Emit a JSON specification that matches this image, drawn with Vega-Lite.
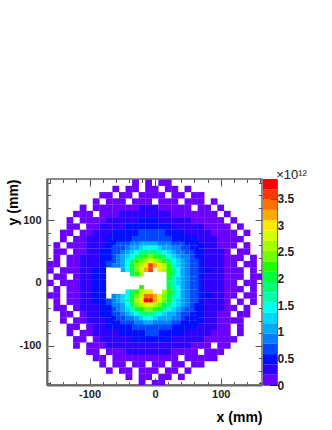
{"$schema":"https://vega.github.io/schema/vega-lite/v6.json","padding":{"left":0,"top":167,"right":0,"bottom":0},"background":"white","spacing":1,"bounds":"flush","config":{"font":"Liberation Sans","view":{"stroke":"#666","strokeWidth":1.5}},"hconcat":[{"width":215,"height":206,"layer":[{"data":{"values":[
{"x":-30,"y":160,"v":0.1},{"x":-10,"y":160,"v":0.1},{"x":10,"y":160,"v":0.1},{"x":20,"y":160,"v":0.1},
{"x":-60,"y":150,"v":0.1},{"x":-40,"y":150,"v":0.1},{"x":-30,"y":150,"v":0.1},{"x":-10,"y":150,"v":0.1},{"x":0,"y":150,"v":0.1},{"x":20,"y":150,"v":0.1},{"x":30,"y":150,"v":0.1},{"x":50,"y":150,"v":0.1},
{"x":-80,"y":140,"v":0.1},{"x":-70,"y":140,"v":0.1},{"x":-50,"y":140,"v":0.1},{"x":-40,"y":140,"v":0.1},{"x":-20,"y":140,"v":0.1},{"x":-10,"y":140,"v":0.1},{"x":0,"y":140,"v":0.1},{"x":10,"y":140,"v":0.1},{"x":30,"y":140,"v":0.1},{"x":40,"y":140,"v":0.1},{"x":60,"y":140,"v":0.1},{"x":70,"y":140,"v":0.1},
{"x":-90,"y":130,"v":0.1},{"x":-70,"y":130,"v":0.1},{"x":-60,"y":130,"v":0.1},{"x":-50,"y":130,"v":0.1},{"x":-30,"y":130,"v":0.1},{"x":-20,"y":130,"v":0.1},{"x":-10,"y":130,"v":0.1},{"x":10,"y":130,"v":0.1},{"x":20,"y":130,"v":0.1},{"x":30,"y":130,"v":0.1},{"x":50,"y":130,"v":0.1},{"x":60,"y":130,"v":0.1},{"x":70,"y":130,"v":0.1},{"x":90,"y":130,"v":0.1},
{"x":-110,"y":120,"v":0.1},{"x":-90,"y":120,"v":0.1},{"x":-80,"y":120,"v":0.1},{"x":-70,"y":120,"v":0.1},{"x":-60,"y":120,"v":0.1},{"x":-50,"y":120,"v":0.1},{"x":-40,"y":120,"v":0.1},{"x":-30,"y":120,"v":0.15},{"x":-20,"y":120,"v":0.2},{"x":-10,"y":120,"v":0.2},{"x":0,"y":120,"v":0.2},{"x":10,"y":120,"v":0.15},{"x":20,"y":120,"v":0.1},{"x":30,"y":120,"v":0.1},{"x":40,"y":120,"v":0.1},{"x":50,"y":120,"v":0.1},{"x":70,"y":120,"v":0.1},{"x":80,"y":120,"v":0.1},{"x":100,"y":120,"v":0.1},
{"x":-120,"y":110,"v":0.1},{"x":-110,"y":110,"v":0.1},{"x":-100,"y":110,"v":0.1},{"x":-80,"y":110,"v":0.1},{"x":-70,"y":110,"v":0.1},{"x":-60,"y":110,"v":0.15},{"x":-50,"y":110,"v":0.2},{"x":-40,"y":110,"v":0.2},{"x":-30,"y":110,"v":0.25},{"x":-20,"y":110,"v":0.3},{"x":-10,"y":110,"v":0.3},{"x":0,"y":110,"v":0.25},{"x":10,"y":110,"v":0.25},{"x":20,"y":110,"v":0.2},{"x":30,"y":110,"v":0.15},{"x":40,"y":110,"v":0.15},{"x":50,"y":110,"v":0.1},{"x":60,"y":110,"v":0.1},{"x":70,"y":110,"v":0.1},{"x":80,"y":110,"v":0.1},{"x":90,"y":110,"v":0.1},{"x":110,"y":110,"v":0.1},
{"x":-130,"y":100,"v":0.1},{"x":-110,"y":100,"v":0.1},{"x":-100,"y":100,"v":0.1},{"x":-90,"y":100,"v":0.1},{"x":-80,"y":100,"v":0.15},{"x":-70,"y":100,"v":0.2},{"x":-60,"y":100,"v":0.2},{"x":-50,"y":100,"v":0.3},{"x":-40,"y":100,"v":0.3},{"x":-30,"y":100,"v":0.35},{"x":-20,"y":100,"v":0.4},{"x":-10,"y":100,"v":0.4},{"x":0,"y":100,"v":0.4},{"x":10,"y":100,"v":0.35},{"x":20,"y":100,"v":0.3},{"x":30,"y":100,"v":0.25},{"x":40,"y":100,"v":0.2},{"x":50,"y":100,"v":0.2},{"x":60,"y":100,"v":0.15},{"x":70,"y":100,"v":0.1},{"x":80,"y":100,"v":0.1},{"x":90,"y":100,"v":0.1},{"x":100,"y":100,"v":0.1},{"x":120,"y":100,"v":0.1},
{"x":-130,"y":90,"v":0.1},{"x":-120,"y":90,"v":0.1},{"x":-100,"y":90,"v":0.1},{"x":-90,"y":90,"v":0.15},{"x":-80,"y":90,"v":0.2},{"x":-70,"y":90,"v":0.25},{"x":-60,"y":90,"v":0.3},{"x":-50,"y":90,"v":0.35},{"x":-40,"y":90,"v":0.4},{"x":-30,"y":90,"v":0.45},{"x":-20,"y":90,"v":0.5},{"x":-10,"y":90,"v":0.5},{"x":0,"y":90,"v":0.5},{"x":10,"y":90,"v":0.45},{"x":20,"y":90,"v":0.4},{"x":30,"y":90,"v":0.35},{"x":40,"y":90,"v":0.3},{"x":50,"y":90,"v":0.25},{"x":60,"y":90,"v":0.2},{"x":70,"y":90,"v":0.2},{"x":80,"y":90,"v":0.15},{"x":90,"y":90,"v":0.1},{"x":100,"y":90,"v":0.1},{"x":110,"y":90,"v":0.1},{"x":130,"y":90,"v":0.1},
{"x":-140,"y":80,"v":0.1},{"x":-130,"y":80,"v":0.1},{"x":-110,"y":80,"v":0.1},{"x":-100,"y":80,"v":0.15},{"x":-90,"y":80,"v":0.2},{"x":-80,"y":80,"v":0.25},{"x":-70,"y":80,"v":0.3},{"x":-60,"y":80,"v":0.4},{"x":-50,"y":80,"v":0.45},{"x":-40,"y":80,"v":0.5},{"x":-30,"y":80,"v":0.55},{"x":-20,"y":80,"v":0.6},{"x":-10,"y":80,"v":0.65},{"x":0,"y":80,"v":0.6},{"x":10,"y":80,"v":0.6},{"x":20,"y":80,"v":0.5},{"x":30,"y":80,"v":0.45},{"x":40,"y":80,"v":0.4},{"x":50,"y":80,"v":0.35},{"x":60,"y":80,"v":0.3},{"x":70,"y":80,"v":0.25},{"x":80,"y":80,"v":0.2},{"x":90,"y":80,"v":0.15},{"x":100,"y":80,"v":0.1},{"x":110,"y":80,"v":0.1},{"x":120,"y":80,"v":0.1},{"x":140,"y":80,"v":0.1},
{"x":-140,"y":70,"v":0.1},{"x":-120,"y":70,"v":0.1},{"x":-110,"y":70,"v":0.1},{"x":-100,"y":70,"v":0.2},{"x":-90,"y":70,"v":0.25},{"x":-80,"y":70,"v":0.3},{"x":-70,"y":70,"v":0.4},{"x":-60,"y":70,"v":0.45},{"x":-50,"y":70,"v":0.5},{"x":-40,"y":70,"v":0.55},{"x":-30,"y":70,"v":0.6},{"x":-20,"y":70,"v":0.7},{"x":-10,"y":70,"v":0.75},{"x":0,"y":70,"v":0.75},{"x":10,"y":70,"v":0.7},{"x":20,"y":70,"v":0.6},{"x":30,"y":70,"v":0.55},{"x":40,"y":70,"v":0.5},{"x":50,"y":70,"v":0.45},{"x":60,"y":70,"v":0.4},{"x":70,"y":70,"v":0.35},{"x":80,"y":70,"v":0.25},{"x":90,"y":70,"v":0.2},{"x":100,"y":70,"v":0.15},{"x":110,"y":70,"v":0.1},{"x":120,"y":70,"v":0.1},{"x":130,"y":70,"v":0.1},
{"x":-150,"y":60,"v":0.1},{"x":-130,"y":60,"v":0.1},{"x":-120,"y":60,"v":0.1},{"x":-110,"y":60,"v":0.15},{"x":-100,"y":60,"v":0.2},{"x":-90,"y":60,"v":0.3},{"x":-80,"y":60,"v":0.35},{"x":-70,"y":60,"v":0.45},{"x":70,"y":60,"v":0.4},{"x":80,"y":60,"v":0.3},{"x":90,"y":60,"v":0.25},{"x":100,"y":60,"v":0.15},{"x":110,"y":60,"v":0.1},{"x":120,"y":60,"v":0.1},{"x":140,"y":60,"v":0.1},
{"x":-150,"y":50,"v":0.1},{"x":-140,"y":50,"v":0.1},{"x":-120,"y":50,"v":0.1},{"x":-110,"y":50,"v":0.15},{"x":-100,"y":50,"v":0.25},{"x":-90,"y":50,"v":0.3},{"x":-80,"y":50,"v":0.4},{"x":-70,"y":50,"v":0.5},{"x":70,"y":50,"v":0.4},{"x":80,"y":50,"v":0.35},{"x":90,"y":50,"v":0.25},{"x":100,"y":50,"v":0.2},{"x":110,"y":50,"v":0.1},{"x":130,"y":50,"v":0.1},{"x":140,"y":50,"v":0.1},
{"x":-150,"y":40,"v":0.1},{"x":-130,"y":40,"v":0.1},{"x":-120,"y":40,"v":0.1},{"x":-110,"y":40,"v":0.2},{"x":-100,"y":40,"v":0.25},{"x":-90,"y":40,"v":0.35},{"x":-80,"y":40,"v":0.45},{"x":-70,"y":40,"v":0.55},{"x":70,"y":40,"v":0.45},{"x":80,"y":40,"v":0.35},{"x":90,"y":40,"v":0.3},{"x":100,"y":40,"v":0.2},{"x":110,"y":40,"v":0.15},{"x":120,"y":40,"v":0.1},{"x":130,"y":40,"v":0.1},{"x":150,"y":40,"v":0.1},
{"x":-160,"y":30,"v":0.1},{"x":-150,"y":30,"v":0.1},{"x":-130,"y":30,"v":0.1},{"x":-120,"y":30,"v":0.15},{"x":-110,"y":30,"v":0.2},{"x":-100,"y":30,"v":0.3},{"x":-90,"y":30,"v":0.35},{"x":-80,"y":30,"v":0.5},{"x":-70,"y":30,"v":0.6},{"x":70,"y":30,"v":0.45},{"x":80,"y":30,"v":0.35},{"x":90,"y":30,"v":0.3},{"x":100,"y":30,"v":0.2},{"x":110,"y":30,"v":0.15},{"x":120,"y":30,"v":0.1},{"x":140,"y":30,"v":0.1},{"x":150,"y":30,"v":0.1},
{"x":-160,"y":20,"v":0.1},{"x":-140,"y":20,"v":0.1},{"x":-130,"y":20,"v":0.1},{"x":-120,"y":20,"v":0.15},{"x":-110,"y":20,"v":0.2},{"x":-100,"y":20,"v":0.3},{"x":-90,"y":20,"v":0.4},{"x":-80,"y":20,"v":0.55},{"x":70,"y":20,"v":0.45},{"x":80,"y":20,"v":0.4},{"x":90,"y":20,"v":0.3},{"x":100,"y":20,"v":0.2},{"x":110,"y":20,"v":0.15},{"x":120,"y":20,"v":0.1},{"x":130,"y":20,"v":0.1},{"x":150,"y":20,"v":0.1},
{"x":-150,"y":10,"v":0.1},{"x":-140,"y":10,"v":0.1},{"x":-120,"y":10,"v":0.15},{"x":-110,"y":10,"v":0.2},{"x":-100,"y":10,"v":0.3},{"x":-90,"y":10,"v":0.4},{"x":-80,"y":10,"v":0.5},{"x":70,"y":10,"v":0.45},{"x":80,"y":10,"v":0.35},{"x":90,"y":10,"v":0.3},{"x":100,"y":10,"v":0.2},{"x":110,"y":10,"v":0.15},{"x":120,"y":10,"v":0.1},{"x":130,"y":10,"v":0.1},{"x":150,"y":10,"v":0.1},{"x":160,"y":10,"v":0.1},
{"x":-160,"y":0,"v":0.1},{"x":-140,"y":0,"v":0.1},{"x":-130,"y":0,"v":0.1},{"x":-120,"y":0,"v":0.15},{"x":-110,"y":0,"v":0.2},{"x":-100,"y":0,"v":0.3},{"x":-90,"y":0,"v":0.4},{"x":-80,"y":0,"v":0.5},{"x":70,"y":0,"v":0.45},{"x":80,"y":0,"v":0.35},{"x":90,"y":0,"v":0.3},{"x":100,"y":0,"v":0.2},{"x":110,"y":0,"v":0.15},{"x":120,"y":0,"v":0.1},{"x":140,"y":0,"v":0.1},{"x":150,"y":0,"v":0.1},
{"x":-150,"y":-10,"v":0.1},{"x":-130,"y":-10,"v":0.1},{"x":-120,"y":-10,"v":0.15},{"x":-110,"y":-10,"v":0.2},{"x":-100,"y":-10,"v":0.3},{"x":-90,"y":-10,"v":0.4},{"x":-80,"y":-10,"v":0.55},{"x":70,"y":-10,"v":0.45},{"x":80,"y":-10,"v":0.35},{"x":90,"y":-10,"v":0.3},{"x":100,"y":-10,"v":0.2},{"x":110,"y":-10,"v":0.15},{"x":120,"y":-10,"v":0.1},{"x":130,"y":-10,"v":0.1},{"x":150,"y":-10,"v":0.1},
{"x":-160,"y":-20,"v":0.1},{"x":-150,"y":-20,"v":0.1},{"x":-130,"y":-20,"v":0.1},{"x":-120,"y":-20,"v":0.15},{"x":-110,"y":-20,"v":0.2},{"x":-100,"y":-20,"v":0.3},{"x":-90,"y":-20,"v":0.4},{"x":-80,"y":-20,"v":0.55},{"x":70,"y":-20,"v":0.45},{"x":80,"y":-20,"v":0.4},{"x":90,"y":-20,"v":0.3},{"x":100,"y":-20,"v":0.2},{"x":110,"y":-20,"v":0.15},{"x":120,"y":-20,"v":0.1},{"x":140,"y":-20,"v":0.1},{"x":150,"y":-20,"v":0.1},
{"x":-150,"y":-30,"v":0.1},{"x":-130,"y":-30,"v":0.1},{"x":-120,"y":-30,"v":0.15},{"x":-110,"y":-30,"v":0.2},{"x":-100,"y":-30,"v":0.3},{"x":-90,"y":-30,"v":0.4},{"x":-80,"y":-30,"v":0.5},{"x":-70,"y":-30,"v":0.65},{"x":70,"y":-30,"v":0.45},{"x":80,"y":-30,"v":0.35},{"x":90,"y":-30,"v":0.3},{"x":100,"y":-30,"v":0.2},{"x":110,"y":-30,"v":0.1},{"x":130,"y":-30,"v":0.1},{"x":150,"y":-30,"v":0.1},
{"x":-150,"y":-40,"v":0.1},{"x":-140,"y":-40,"v":0.1},{"x":-120,"y":-40,"v":0.1},{"x":-110,"y":-40,"v":0.2},{"x":-100,"y":-40,"v":0.25},{"x":-90,"y":-40,"v":0.35},{"x":-80,"y":-40,"v":0.45},{"x":-70,"y":-40,"v":0.55},{"x":70,"y":-40,"v":0.45},{"x":80,"y":-40,"v":0.35},{"x":90,"y":-40,"v":0.25},{"x":100,"y":-40,"v":0.2},{"x":110,"y":-40,"v":0.15},{"x":120,"y":-40,"v":0.1},{"x":140,"y":-40,"v":0.1},
{"x":-140,"y":-50,"v":0.1},{"x":-130,"y":-50,"v":0.1},{"x":-110,"y":-50,"v":0.15},{"x":-100,"y":-50,"v":0.25},{"x":-90,"y":-50,"v":0.3},{"x":-80,"y":-50,"v":0.4},{"x":-70,"y":-50,"v":0.5},{"x":70,"y":-50,"v":0.4},{"x":80,"y":-50,"v":0.35},{"x":90,"y":-50,"v":0.25},{"x":100,"y":-50,"v":0.15},{"x":110,"y":-50,"v":0.1},{"x":130,"y":-50,"v":0.1},{"x":140,"y":-50,"v":0.1},
{"x":-140,"y":-60,"v":0.1},{"x":-120,"y":-60,"v":0.1},{"x":-110,"y":-60,"v":0.15},{"x":-100,"y":-60,"v":0.2},{"x":-90,"y":-60,"v":0.3},{"x":-80,"y":-60,"v":0.35},{"x":-70,"y":-60,"v":0.45},{"x":70,"y":-60,"v":0.4},{"x":80,"y":-60,"v":0.3},{"x":90,"y":-60,"v":0.2},{"x":100,"y":-60,"v":0.15},{"x":110,"y":-60,"v":0.1},{"x":120,"y":-60,"v":0.1},{"x":130,"y":-60,"v":0.1},
{"x":-130,"y":-70,"v":0.1},{"x":-120,"y":-70,"v":0.1},{"x":-100,"y":-70,"v":0.15},{"x":-90,"y":-70,"v":0.25},{"x":-80,"y":-70,"v":0.3},{"x":-70,"y":-70,"v":0.4},{"x":-60,"y":-70,"v":0.45},{"x":-50,"y":-70,"v":0.5},{"x":-40,"y":-70,"v":0.55},{"x":-30,"y":-70,"v":0.6},{"x":-20,"y":-70,"v":0.7},{"x":-10,"y":-70,"v":0.7},{"x":0,"y":-70,"v":0.7},{"x":10,"y":-70,"v":0.65},{"x":20,"y":-70,"v":0.6},{"x":30,"y":-70,"v":0.5},{"x":40,"y":-70,"v":0.45},{"x":50,"y":-70,"v":0.4},{"x":60,"y":-70,"v":0.4},{"x":70,"y":-70,"v":0.3},{"x":80,"y":-70,"v":0.25},{"x":90,"y":-70,"v":0.2},{"x":100,"y":-70,"v":0.15},{"x":110,"y":-70,"v":0.1},{"x":130,"y":-70,"v":0.1},
{"x":-130,"y":-80,"v":0.1},{"x":-110,"y":-80,"v":0.1},{"x":-100,"y":-80,"v":0.15},{"x":-90,"y":-80,"v":0.2},{"x":-80,"y":-80,"v":0.25},{"x":-70,"y":-80,"v":0.3},{"x":-60,"y":-80,"v":0.35},{"x":-50,"y":-80,"v":0.4},{"x":-40,"y":-80,"v":0.45},{"x":-30,"y":-80,"v":0.5},{"x":-20,"y":-80,"v":0.55},{"x":-10,"y":-80,"v":0.6},{"x":0,"y":-80,"v":0.6},{"x":10,"y":-80,"v":0.55},{"x":20,"y":-80,"v":0.5},{"x":30,"y":-80,"v":0.45},{"x":40,"y":-80,"v":0.4},{"x":50,"y":-80,"v":0.35},{"x":60,"y":-80,"v":0.3},{"x":70,"y":-80,"v":0.25},{"x":80,"y":-80,"v":0.2},{"x":90,"y":-80,"v":0.15},{"x":100,"y":-80,"v":0.1},{"x":110,"y":-80,"v":0.1},{"x":130,"y":-80,"v":0.1},
{"x":-120,"y":-90,"v":0.1},{"x":-110,"y":-90,"v":0.1},{"x":-90,"y":-90,"v":0.15},{"x":-80,"y":-90,"v":0.2},{"x":-70,"y":-90,"v":0.25},{"x":-60,"y":-90,"v":0.3},{"x":-50,"y":-90,"v":0.35},{"x":-40,"y":-90,"v":0.35},{"x":-30,"y":-90,"v":0.4},{"x":-20,"y":-90,"v":0.45},{"x":-10,"y":-90,"v":0.45},{"x":0,"y":-90,"v":0.45},{"x":10,"y":-90,"v":0.45},{"x":20,"y":-90,"v":0.4},{"x":30,"y":-90,"v":0.35},{"x":40,"y":-90,"v":0.3},{"x":50,"y":-90,"v":0.25},{"x":60,"y":-90,"v":0.2},{"x":70,"y":-90,"v":0.2},{"x":80,"y":-90,"v":0.15},{"x":90,"y":-90,"v":0.1},{"x":100,"y":-90,"v":0.1},{"x":110,"y":-90,"v":0.1},{"x":120,"y":-90,"v":0.1},
{"x":-120,"y":-100,"v":0.1},{"x":-100,"y":-100,"v":0.1},{"x":-90,"y":-100,"v":0.1},{"x":-80,"y":-100,"v":0.15},{"x":-70,"y":-100,"v":0.2},{"x":-60,"y":-100,"v":0.2},{"x":-50,"y":-100,"v":0.25},{"x":-40,"y":-100,"v":0.3},{"x":-30,"y":-100,"v":0.3},{"x":-20,"y":-100,"v":0.35},{"x":-10,"y":-100,"v":0.35},{"x":0,"y":-100,"v":0.35},{"x":10,"y":-100,"v":0.3},{"x":20,"y":-100,"v":0.3},{"x":30,"y":-100,"v":0.25},{"x":40,"y":-100,"v":0.2},{"x":50,"y":-100,"v":0.2},{"x":60,"y":-100,"v":0.15},{"x":70,"y":-100,"v":0.1},{"x":80,"y":-100,"v":0.1},{"x":100,"y":-100,"v":0.1},{"x":110,"y":-100,"v":0.1},
{"x":-100,"y":-110,"v":0.1},{"x":-90,"y":-110,"v":0.1},{"x":-70,"y":-110,"v":0.1},{"x":-60,"y":-110,"v":0.15},{"x":-50,"y":-110,"v":0.15},{"x":-40,"y":-110,"v":0.2},{"x":-30,"y":-110,"v":0.25},{"x":-20,"y":-110,"v":0.25},{"x":-10,"y":-110,"v":0.25},{"x":0,"y":-110,"v":0.25},{"x":10,"y":-110,"v":0.2},{"x":20,"y":-110,"v":0.2},{"x":30,"y":-110,"v":0.15},{"x":40,"y":-110,"v":0.15},{"x":50,"y":-110,"v":0.1},{"x":60,"y":-110,"v":0.1},{"x":80,"y":-110,"v":0.1},{"x":90,"y":-110,"v":0.1},{"x":100,"y":-110,"v":0.1},
{"x":-90,"y":-120,"v":0.1},{"x":-80,"y":-120,"v":0.1},{"x":-60,"y":-120,"v":0.1},{"x":-50,"y":-120,"v":0.1},{"x":-40,"y":-120,"v":0.1},{"x":-30,"y":-120,"v":0.15},{"x":-20,"y":-120,"v":0.15},{"x":-10,"y":-120,"v":0.15},{"x":0,"y":-120,"v":0.15},{"x":10,"y":-120,"v":0.1},{"x":20,"y":-120,"v":0.1},{"x":30,"y":-120,"v":0.1},{"x":50,"y":-120,"v":0.1},{"x":60,"y":-120,"v":0.1},{"x":70,"y":-120,"v":0.1},{"x":80,"y":-120,"v":0.1},{"x":90,"y":-120,"v":0.1},
{"x":-80,"y":-130,"v":0.1},{"x":-60,"y":-130,"v":0.1},{"x":-50,"y":-130,"v":0.1},{"x":-30,"y":-130,"v":0.1},{"x":-20,"y":-130,"v":0.1},{"x":0,"y":-130,"v":0.1},{"x":10,"y":-130,"v":0.1},{"x":30,"y":-130,"v":0.1},{"x":40,"y":-130,"v":0.1},{"x":60,"y":-130,"v":0.1},{"x":70,"y":-130,"v":0.1},
{"x":-70,"y":-140,"v":0.1},{"x":-50,"y":-140,"v":0.1},{"x":-40,"y":-140,"v":0.1},{"x":-20,"y":-140,"v":0.1},{"x":-10,"y":-140,"v":0.1},{"x":0,"y":-140,"v":0.1},{"x":20,"y":-140,"v":0.1},{"x":30,"y":-140,"v":0.1},{"x":50,"y":-140,"v":0.1},
{"x":-40,"y":-150,"v":0.1},{"x":-20,"y":-150,"v":0.1},{"x":-10,"y":-150,"v":0.1},{"x":10,"y":-150,"v":0.1},{"x":20,"y":-150,"v":0.1},{"x":40,"y":-150,"v":0.1},
{"x":-20,"y":-160,"v":0.1},{"x":0,"y":-160,"v":0.1},{"x":10,"y":-160,"v":0.1}
]},"mark":{"type":"rect","width":6.8,"height":6.4,"clip":true},"encoding":{"x":{"field":"x","type":"quantitative","scale":{"domain":[-165,163],"nice":false},"axis":{"orient":"bottom","title":"x (mm)","titleFont":"Liberation Sans","titleFontSize":14,"titleFontWeight":"bold","titleAnchor":"end","titlePadding":8,"values":[-160,-140,-120,-100,-80,-60,-40,-20,0,20,40,60,80,100,120,140,160],"tickSize":{"condition":{"test":"datum.value%100==0","value":-7},"value":-3.5},"labelExpr":"datum.value%100==0?''+datum.value:''","labelFontSize":11,"labelFontWeight":"bold","labelColor":"#222","labelPadding":10,"tickColor":"#555","domainColor":"#666","domainWidth":2,"labelFlush":false,"labelOverlap":false,"grid":false}},"y":{"field":"y","type":"quantitative","scale":{"domain":[-163,166],"nice":false},"axis":{"orient":"left","title":"y (mm)","titleFont":"Liberation Sans","titleFontSize":14,"titleFontWeight":"bold","titleAnchor":"end","titleX":-27,"values":[-160,-140,-120,-100,-80,-60,-40,-20,0,20,40,60,80,100,120,140,160],"tickSize":{"condition":{"test":"datum.value%100==0","value":-7},"value":-3.5},"labelExpr":"datum.value%100==0?''+datum.value:''","labelFontSize":11,"labelFontWeight":"bold","labelColor":"#222","labelPadding":13,"tickColor":"#555","domainColor":"#666","domainWidth":2,"labelOverlap":false,"grid":false,"minExtent":46,"maxExtent":46}},"color":{"field":"v","type":"quantitative","legend":null,"scale":{"type":"quantize","domain":[0,3.87],"range":["#6a00ff","#2e00ff","#0010ff","#0048ff","#0080ff","#00aaff","#00d8ff","#00ffee","#00ffb0","#00ff78","#00ff40","#20ff00","#70ff00","#a8ff00","#d8ff00","#ffe800","#ffaa00","#ff7000","#ff3800","#ff0000"]}}}},
{"data":{"values":[
{"x":-63,"y":63,"v":0.5},{"x":-56,"y":63,"v":0.6},{"x":-49,"y":63,"v":0.6},{"x":-42,"y":63,"v":0.7},{"x":-35,"y":63,"v":0.8},{"x":-28,"y":63,"v":0.8},{"x":-21,"y":63,"v":1},{"x":-14,"y":63,"v":1},{"x":-7,"y":63,"v":1.1},{"x":0,"y":63,"v":1},{"x":7,"y":63,"v":0.9},{"x":14,"y":63,"v":0.9},{"x":21,"y":63,"v":0.8},{"x":28,"y":63,"v":0.7},{"x":35,"y":63,"v":0.7},{"x":42,"y":63,"v":0.6},{"x":49,"y":63,"v":0.5},{"x":56,"y":63,"v":0.5},{"x":63,"y":63,"v":0.4},
{"x":-63,"y":56,"v":0.6},{"x":-56,"y":56,"v":0.6},{"x":-49,"y":56,"v":0.7},{"x":-42,"y":56,"v":0.9},{"x":-35,"y":56,"v":1},{"x":-28,"y":56,"v":1.1},{"x":-21,"y":56,"v":1.3},{"x":-14,"y":56,"v":1.5},{"x":-7,"y":56,"v":1.5},{"x":0,"y":56,"v":1.4},{"x":7,"y":56,"v":1.3},{"x":14,"y":56,"v":1.1},{"x":21,"y":56,"v":1},{"x":28,"y":56,"v":0.9},{"x":35,"y":56,"v":0.8},{"x":42,"y":56,"v":0.7},{"x":49,"y":56,"v":0.6},{"x":56,"y":56,"v":0.5},{"x":63,"y":56,"v":0.5},
{"x":-63,"y":49,"v":0.6},{"x":-56,"y":49,"v":0.7},{"x":-49,"y":49,"v":0.9},{"x":-42,"y":49,"v":1},{"x":-35,"y":49,"v":1.2},{"x":-28,"y":49,"v":1.5},{"x":-21,"y":49,"v":1.8},{"x":-14,"y":49,"v":1.9},{"x":-7,"y":49,"v":1.9},{"x":0,"y":49,"v":1.8},{"x":7,"y":49,"v":1.6},{"x":14,"y":49,"v":1.4},{"x":21,"y":49,"v":1.2},{"x":28,"y":49,"v":1},{"x":35,"y":49,"v":0.9},{"x":42,"y":49,"v":0.8},{"x":49,"y":49,"v":0.7},{"x":56,"y":49,"v":0.6},{"x":63,"y":49,"v":0.5},
{"x":-63,"y":42,"v":0.7},{"x":-56,"y":42,"v":0.8},{"x":-49,"y":42,"v":1},{"x":-42,"y":42,"v":1.2},{"x":-35,"y":42,"v":1.5},{"x":-28,"y":42,"v":1.8},{"x":-21,"y":42,"v":2.1},{"x":-14,"y":42,"v":2.3},{"x":-7,"y":42,"v":2.4},{"x":0,"y":42,"v":2.3},{"x":7,"y":42,"v":2.1},{"x":14,"y":42,"v":1.8},{"x":21,"y":42,"v":1.5},{"x":28,"y":42,"v":1.3},{"x":35,"y":42,"v":1.1},{"x":42,"y":42,"v":0.9},{"x":49,"y":42,"v":0.8},{"x":56,"y":42,"v":0.6},{"x":63,"y":42,"v":0.5},
{"x":-63,"y":35,"v":0.7},{"x":-56,"y":35,"v":0.9},{"x":-49,"y":35,"v":1.1},{"x":-42,"y":35,"v":1.4},{"x":-35,"y":35,"v":1.8},{"x":-28,"y":35,"v":2.2},{"x":-21,"y":35,"v":2.5},{"x":-14,"y":35,"v":2.7},{"x":-7,"y":35,"v":2.8},{"x":0,"y":35,"v":2.7},{"x":7,"y":35,"v":2.5},{"x":14,"y":35,"v":2.2},{"x":21,"y":35,"v":1.9},{"x":28,"y":35,"v":1.5},{"x":35,"y":35,"v":1.2},{"x":42,"y":35,"v":1},{"x":49,"y":35,"v":0.8},{"x":56,"y":35,"v":0.7},{"x":63,"y":35,"v":0.6},
{"x":-63,"y":28,"v":0.8},{"x":-56,"y":28,"v":0.9},{"x":-49,"y":28,"v":1.1},{"x":-42,"y":28,"v":1.5},{"x":-35,"y":28,"v":2},{"x":-28,"y":28,"v":2.4},{"x":-21,"y":28,"v":2.7},{"x":-14,"y":28,"v":3},{"x":-7,"y":28,"v":3.6},{"x":0,"y":28,"v":3.2},{"x":7,"y":28,"v":3},{"x":14,"y":28,"v":2.6},{"x":21,"y":28,"v":2.2},{"x":28,"y":28,"v":1.7},{"x":35,"y":28,"v":1.3},{"x":42,"y":28,"v":1},{"x":49,"y":28,"v":0.8},{"x":56,"y":28,"v":0.7},{"x":63,"y":28,"v":0.6},
{"x":-49,"y":21,"v":1.1},{"x":-42,"y":21,"v":1.5},{"x":-35,"y":21,"v":2},{"x":-28,"y":21,"v":2.4},{"x":-21,"y":21,"v":2.8},{"x":-14,"y":21,"v":3.2},{"x":-7,"y":21,"v":3.5},{"x":7,"y":21,"v":3},{"x":14,"y":21,"v":2.6},{"x":21,"y":21,"v":2.2},{"x":28,"y":21,"v":1.8},{"x":35,"y":21,"v":1.4},{"x":42,"y":21,"v":1.1},{"x":49,"y":21,"v":0.9},{"x":56,"y":21,"v":0.7},{"x":63,"y":21,"v":0.6},
{"x":-35,"y":14,"v":1.8},{"x":-28,"y":14,"v":2.2},{"x":-21,"y":14,"v":2.6},{"x":21,"y":14,"v":2.2},{"x":28,"y":14,"v":1.8},{"x":35,"y":14,"v":1.4},{"x":42,"y":14,"v":1.1},{"x":49,"y":14,"v":0.9},{"x":56,"y":14,"v":0.7},{"x":63,"y":14,"v":0.6},
{"x":21,"y":7,"v":2},{"x":28,"y":7,"v":1.7},{"x":35,"y":7,"v":1.3},{"x":42,"y":7,"v":1},{"x":49,"y":7,"v":0.8},{"x":56,"y":7,"v":0.7},{"x":63,"y":7,"v":0.6},
{"x":21,"y":0,"v":1.8},{"x":28,"y":0,"v":1.6},{"x":35,"y":0,"v":1.3},{"x":42,"y":0,"v":1},{"x":49,"y":0,"v":0.8},{"x":56,"y":0,"v":0.7},{"x":63,"y":0,"v":0.6},
{"x":-21,"y":-7,"v":2.3},{"x":21,"y":-7,"v":2},{"x":28,"y":-7,"v":1.7},{"x":35,"y":-7,"v":1.4},{"x":42,"y":-7,"v":1.1},{"x":49,"y":-7,"v":0.9},{"x":56,"y":-7,"v":0.7},{"x":63,"y":-7,"v":0.6},
{"x":-42,"y":-14,"v":1.4},{"x":-35,"y":-14,"v":1.8},{"x":-28,"y":-14,"v":2.3},{"x":-21,"y":-14,"v":2.7},{"x":-14,"y":-14,"v":2.9},{"x":-7,"y":-14,"v":3},{"x":14,"y":-14,"v":2.7},{"x":21,"y":-14,"v":2.2},{"x":28,"y":-14,"v":1.8},{"x":35,"y":-14,"v":1.4},{"x":42,"y":-14,"v":1.1},{"x":49,"y":-14,"v":0.9},{"x":56,"y":-14,"v":0.7},{"x":63,"y":-14,"v":0.6},
{"x":-63,"y":-21,"v":0.9},{"x":-56,"y":-21,"v":1},{"x":-49,"y":-21,"v":1.2},{"x":-42,"y":-21,"v":1.5},{"x":-35,"y":-21,"v":2},{"x":-28,"y":-21,"v":2.5},{"x":-21,"y":-21,"v":2.9},{"x":-14,"y":-21,"v":3.3},{"x":-7,"y":-21,"v":3.4},{"x":0,"y":-21,"v":3.2},{"x":7,"y":-21,"v":2.9},{"x":14,"y":-21,"v":2.5},{"x":21,"y":-21,"v":2.1},{"x":28,"y":-21,"v":1.7},{"x":35,"y":-21,"v":1.4},{"x":42,"y":-21,"v":1.1},{"x":49,"y":-21,"v":0.9},{"x":56,"y":-21,"v":0.7},{"x":63,"y":-21,"v":0.6},
{"x":-63,"y":-28,"v":0.8},{"x":-56,"y":-28,"v":1},{"x":-49,"y":-28,"v":1.2},{"x":-42,"y":-28,"v":1.6},{"x":-35,"y":-28,"v":2.1},{"x":-28,"y":-28,"v":2.6},{"x":-21,"y":-28,"v":3},{"x":-14,"y":-28,"v":3.8},{"x":-7,"y":-28,"v":3.7},{"x":0,"y":-28,"v":3.2},{"x":7,"y":-28,"v":2.9},{"x":14,"y":-28,"v":2.4},{"x":21,"y":-28,"v":2},{"x":28,"y":-28,"v":1.6},{"x":35,"y":-28,"v":1.3},{"x":42,"y":-28,"v":1},{"x":49,"y":-28,"v":0.8},{"x":56,"y":-28,"v":0.7},{"x":63,"y":-28,"v":0.6},
{"x":-63,"y":-35,"v":0.8},{"x":-56,"y":-35,"v":0.9},{"x":-49,"y":-35,"v":1.1},{"x":-42,"y":-35,"v":1.4},{"x":-35,"y":-35,"v":1.9},{"x":-28,"y":-35,"v":2.4},{"x":-21,"y":-35,"v":2.7},{"x":-14,"y":-35,"v":2.9},{"x":-7,"y":-35,"v":2.9},{"x":0,"y":-35,"v":2.7},{"x":7,"y":-35,"v":2.4},{"x":14,"y":-35,"v":2.1},{"x":21,"y":-35,"v":1.8},{"x":28,"y":-35,"v":1.5},{"x":35,"y":-35,"v":1.2},{"x":42,"y":-35,"v":1},{"x":49,"y":-35,"v":0.8},{"x":56,"y":-35,"v":0.7},{"x":63,"y":-35,"v":0.5},
{"x":-63,"y":-42,"v":0.7},{"x":-56,"y":-42,"v":0.8},{"x":-49,"y":-42,"v":1},{"x":-42,"y":-42,"v":1.2},{"x":-35,"y":-42,"v":1.6},{"x":-28,"y":-42,"v":2},{"x":-21,"y":-42,"v":2.3},{"x":-14,"y":-42,"v":2.4},{"x":-7,"y":-42,"v":2.4},{"x":0,"y":-42,"v":2.2},{"x":7,"y":-42,"v":2},{"x":14,"y":-42,"v":1.8},{"x":21,"y":-42,"v":1.5},{"x":28,"y":-42,"v":1.2},{"x":35,"y":-42,"v":1},{"x":42,"y":-42,"v":0.9},{"x":49,"y":-42,"v":0.7},{"x":56,"y":-42,"v":0.6},{"x":63,"y":-42,"v":0.5},
{"x":-63,"y":-49,"v":0.6},{"x":-56,"y":-49,"v":0.7},{"x":-49,"y":-49,"v":0.8},{"x":-42,"y":-49,"v":1},{"x":-35,"y":-49,"v":1.2},{"x":-28,"y":-49,"v":1.5},{"x":-21,"y":-49,"v":1.8},{"x":-14,"y":-49,"v":1.9},{"x":-7,"y":-49,"v":1.8},{"x":0,"y":-49,"v":1.7},{"x":7,"y":-49,"v":1.5},{"x":14,"y":-49,"v":1.3},{"x":21,"y":-49,"v":1.1},{"x":28,"y":-49,"v":1},{"x":35,"y":-49,"v":0.9},{"x":42,"y":-49,"v":0.7},{"x":49,"y":-49,"v":0.6},{"x":56,"y":-49,"v":0.5},{"x":63,"y":-49,"v":0.5},
{"x":-63,"y":-56,"v":0.5},{"x":-56,"y":-56,"v":0.6},{"x":-49,"y":-56,"v":0.7},{"x":-42,"y":-56,"v":0.8},{"x":-35,"y":-56,"v":0.9},{"x":-28,"y":-56,"v":1.1},{"x":-21,"y":-56,"v":1.3},{"x":-14,"y":-56,"v":1.4},{"x":-7,"y":-56,"v":1.4},{"x":0,"y":-56,"v":1.3},{"x":7,"y":-56,"v":1.1},{"x":14,"y":-56,"v":1},{"x":21,"y":-56,"v":1},{"x":28,"y":-56,"v":0.9},{"x":35,"y":-56,"v":0.8},{"x":42,"y":-56,"v":0.6},{"x":49,"y":-56,"v":0.5},{"x":56,"y":-56,"v":0.5},{"x":63,"y":-56,"v":0.4},
{"x":-63,"y":-63,"v":0.5},{"x":-56,"y":-63,"v":0.5},{"x":-49,"y":-63,"v":0.6},{"x":-42,"y":-63,"v":0.6},{"x":-35,"y":-63,"v":0.7},{"x":-28,"y":-63,"v":0.8},{"x":-21,"y":-63,"v":0.9},{"x":-14,"y":-63,"v":1},{"x":-7,"y":-63,"v":1},{"x":0,"y":-63,"v":0.9},{"x":7,"y":-63,"v":0.9},{"x":14,"y":-63,"v":0.8},{"x":21,"y":-63,"v":0.8},{"x":28,"y":-63,"v":0.7},{"x":35,"y":-63,"v":0.6},{"x":42,"y":-63,"v":0.5},{"x":49,"y":-63,"v":0.5},{"x":56,"y":-63,"v":0.4},{"x":63,"y":-63,"v":0.4}
]},"mark":{"type":"rect","width":4.7,"height":4.5,"clip":true},"encoding":{"x":{"field":"x","type":"quantitative","scale":{"domain":[-165,163],"nice":false},"axis":null},"y":{"field":"y","type":"quantitative","scale":{"domain":[-163,166],"nice":false},"axis":null},"color":{"field":"v","type":"quantitative","legend":null,"scale":{"type":"quantize","domain":[0,3.87],"range":["#6a00ff","#2e00ff","#0010ff","#0048ff","#0080ff","#00aaff","#00d8ff","#00ffee","#00ffb0","#00ff78","#00ff40","#20ff00","#70ff00","#a8ff00","#d8ff00","#ffe800","#ffaa00","#ff7000","#ff3800","#ff0000"]}}}},
{"data":{"values":[{"x":0,"y":0}]},"mark":{"type":"rect","opacity":0,"width":1,"height":1},"encoding":{"x":{"field":"x","type":"quantitative","scale":{"domain":[-165,163],"nice":false},"axis":{"orient":"top","title":null,"values":[-160,-140,-120,-100,-80,-60,-40,-20,0,20,40,60,80,100,120,140,160],"tickSize":{"condition":{"test":"datum.value%100==0","value":-7},"value":-3.5},"labels":false,"tickColor":"#555","domain":false,"grid":false,"minExtent":0,"maxExtent":0}},"y":{"field":"y","type":"quantitative","scale":{"domain":[-163,166],"nice":false},"axis":{"orient":"right","title":null,"values":[-160,-140,-120,-100,-80,-60,-40,-20,0,20,40,60,80,100,120,140,160],"tickSize":{"condition":{"test":"datum.value%100==0","value":-7},"value":-3.5},"labels":false,"tickColor":"#555","domain":false,"grid":false,"minExtent":0,"maxExtent":0}}}}],"resolve":{"axis":{"x":"independent","y":"independent"}}},{"width":14,"height":206,"view":{"stroke":"#666","strokeWidth":1},"data":{"values":[{"lo":0,"hi":0.1935,"v":0.1},{"lo":0.1935,"hi":0.387,"v":0.29},{"lo":0.387,"hi":0.5805,"v":0.48},{"lo":0.5805,"hi":0.774,"v":0.68},{"lo":0.774,"hi":0.9675,"v":0.87},{"lo":0.9675,"hi":1.161,"v":1.06},{"lo":1.161,"hi":1.3545,"v":1.26},{"lo":1.3545,"hi":1.548,"v":1.45},{"lo":1.548,"hi":1.7415,"v":1.64},{"lo":1.7415,"hi":1.935,"v":1.84},{"lo":1.935,"hi":2.1285,"v":2.03},{"lo":2.1285,"hi":2.322,"v":2.22},{"lo":2.322,"hi":2.5155,"v":2.42},{"lo":2.5155,"hi":2.709,"v":2.61},{"lo":2.709,"hi":2.9025,"v":2.8},{"lo":2.9025,"hi":3.096,"v":3.0},{"lo":3.096,"hi":3.2895,"v":3.19},{"lo":3.2895,"hi":3.483,"v":3.39},{"lo":3.483,"hi":3.6765,"v":3.58},{"lo":3.6765,"hi":3.87,"v":3.77}]},"mark":{"type":"rect"},"encoding":{"y":{"field":"lo","type":"quantitative","scale":{"domain":[0,3.87],"nice":false},"axis":{"orient":"right","title":"×10¹²","titleAngle":0,"titleX":14,"titleY":2,"titleFontSize":13,"titleFontWeight":"normal","titleColor":"#222","values":[0,0.5,1,1.5,2,2.5,3,3.5],"tickSize":-7,"tickColor":"#000","labelExpr":"format(datum.value,'~g')","labelFontSize":12,"labelFontWeight":"bold","labelColor":"#222","labelPadding":7,"domain":false,"grid":false,"labelOverlap":false}},"y2":{"field":"hi"},"color":{"field":"v","type":"quantitative","legend":null,"scale":{"type":"quantize","domain":[0,3.87],"range":["#6a00ff","#2e00ff","#0010ff","#0048ff","#0080ff","#00aaff","#00d8ff","#00ffee","#00ffb0","#00ff78","#00ff40","#20ff00","#70ff00","#a8ff00","#d8ff00","#ffe800","#ffaa00","#ff7000","#ff3800","#ff0000"]}}}}]}
